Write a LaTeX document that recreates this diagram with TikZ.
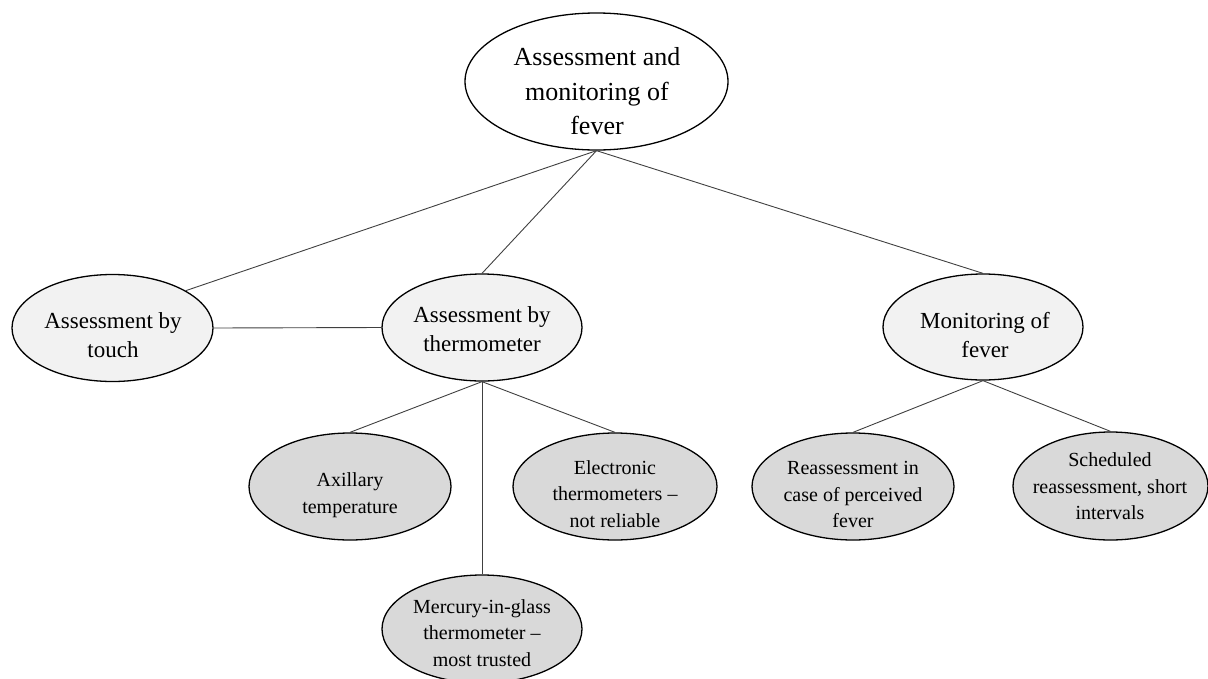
\documentclass[tikz,border=0pt]{standalone}
\usepackage{fontspec}
\setmainfont{Liberation Serif}
\usetikzlibrary{shapes.geometric}
\definecolor{lvltwo}{HTML}{F2F2F2}
\definecolor{lvlthree}{HTML}{D9D9D9}
\definecolor{linkgray}{HTML}{404040}
\begin{document}
\begin{tikzpicture}[x=1pt,y=-1pt,
  bubble/.style={ellipse, draw=black, line width=1.3pt, inner sep=0pt},
  rootbubble/.style={bubble, fill=white, minimum width=263pt, minimum height=137pt},
  midbubble/.style={bubble, fill=lvltwo, minimum width=201pt, minimum height=107pt},
  leafbubble/.style={bubble, fill=lvlthree, minimum width=201pt, minimum height=107pt},
  roottext/.style={align=center, inner sep=0pt, font=\fontsize{26}{34.5}\selectfont},
  midtext/.style={align=center, inner sep=0pt, font=\fontsize{23}{29}\selectfont},
  leaftext/.style={align=center, inner sep=0pt, font=\fontsize{20}{26.5}\selectfont},
  link/.style={draw=linkgray, line width=0.9pt}]
\useasboundingbox (0,0) rectangle (1208,678);

% ellipses
\node[rootbubble] (root) at (596.5,81.5) {};
\node[midbubble] (touch) at (112.5,328) {};
\node[midbubble, minimum width=200pt] (therm) at (482,327.5) {};
\node[midbubble, minimum width=200pt, minimum height=106pt] (mon) at (983,327) {};
\node[leafbubble, minimum width=202pt] (axil) at (350,486.5) {};
\node[leafbubble, minimum width=204pt] (elec) at (615,486.5) {};
\node[leafbubble, minimum width=200pt, minimum height=108pt] (merc) at (482,629) {};
\node[leafbubble, minimum width=202pt] (reass) at (853,486.5) {};
\node[leafbubble, minimum width=195pt, minimum height=108pt] (sched) at (1110.5,486) {};

% connectors
\draw[link] (root.south) -- (touch.27);
\draw[link] (root.south) -- (therm.north);
\draw[link] (root.south) -- (mon.north);
\draw[link] (touch.east) -- (therm.west);
\draw[link] (therm.south) -- (axil.north);
\draw[link] (therm.south) -- (merc.north);
\draw[link] (therm.south) -- (elec.north);
\draw[link] (mon.south) -- (reass.north);
\draw[link] (mon.south) -- (sched.north);

% labels
\node[roottext] (root-t) at (597,91.5) {Assessment and\\monitoring of\\fever};
\node[midtext] (touch-t) at (113,335.5) {Assessment by\\touch};
\node[midtext] (therm-t) at (482,329) {Assessment by\\thermometer};
\node[midtext] (mon-t) at (985,335.5) {Monitoring of\\fever};
\node[leaftext] (axil-t) at (350,495) {Axillary\\temperature};
\node[leaftext] (elec-t) at (615,494) {Electronic\\thermometers –\\not reliable};
\node[leaftext] (merc-t) at (482,633) {Mercury-in-glass\\thermometer –\\most trusted};
\node[leaftext] (reass-t) at (853,494.5) {Reassessment in\\case of perceived\\fever};
\node[leaftext] (sched-t) at (1110,486.5) {Scheduled\\reassessment, short\\intervals};
\end{tikzpicture}
\end{document}
